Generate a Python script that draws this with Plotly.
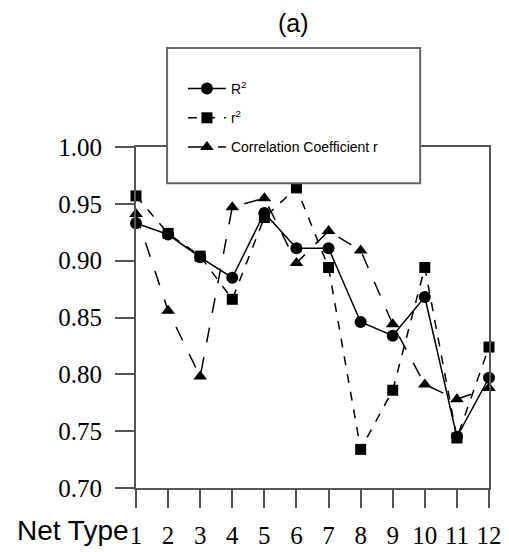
import plotly.graph_objects as go

net_type = [1, 2, 3, 4, 5, 6, 7, 8, 9, 10, 11, 12]
tick_labels = ["1", "2", "3", "4", "5", "6", "7", "8", "9", "10", "11", "12"]
R2 = [0.933, 0.923, 0.903, 0.885, 0.942, 0.911, 0.911, 0.846, 0.834, 0.868, 0.745, 0.797]
r2 = [0.957, 0.924, 0.904, 0.866, 0.938, 0.964, 0.894, 0.734, 0.786, 0.894, 0.744, 0.824]
corr_r = [0.941, 0.856, 0.798, 0.947, 0.955, 0.898, 0.926, 0.909, 0.844, 0.791, 0.778, 0.788]
y_ticks = [0.70, 0.75, 0.80, 0.85, 0.90, 0.95, 1.00]

fig = go.Figure()
fig.add_trace(go.Scatter(x=net_type, y=R2, mode="lines+markers", name="R<sup>2</sup>",
                         legendgroup="a",
                         line=dict(color="black", width=1.5),
                         marker=dict(symbol="circle", size=12, color="black"), cliponaxis=False))
fig.add_trace(go.Scatter(x=net_type, y=r2, mode="lines+markers", name="r<sup>2</sup>",
                         legendgroup="b",
                         line=dict(color="black", width=1.5, dash="dash"),
                         marker=dict(symbol="square", size=11, color="black"), cliponaxis=False))
fig.add_trace(go.Scatter(x=net_type, y=corr_r, mode="lines+markers", name="Correlation Coefficient r",
                         legendgroup="c",
                         line=dict(color="black", width=1.5, dash="longdash"),
                         marker=dict(symbol="triangle-up", size=12, color="black"), cliponaxis=False))

fig.update_layout(
    width=501, height=544,
    margin=dict(l=128, r=20, t=139, b=64, autoexpand=False),
    plot_bgcolor="white", paper_bgcolor="white",
    showlegend=True,
    legend=dict(x=0.133, y=1.217, xanchor="left", yanchor="top",
                bgcolor="rgba(0,0,0,0)", borderwidth=0, tracegroupgap=8,
                font=dict(family="Liberation Sans", size=14, color="black"),
                itemwidth=38),
    shapes=[dict(type="rect", xref="paper", yref="paper", x0=0.088, x1=0.805, y0=0.894, y1=1.290,
                 fillcolor="white", line=dict(color="#666", width=2), layer="above")],
    annotations=[
        dict(text="(a)", x=0.445, y=1.365, xref="paper", yref="paper", yanchor="middle",
             showarrow=False, font=dict(family="Liberation Sans", size=25, color="black")),
        dict(text="Net Type", x=-0.014, y=-0.126, xref="paper", yref="paper", xanchor="right",
             yanchor="middle", showarrow=False,
             font=dict(family="Liberation Sans", size=28, color="black")),
    ],
)
fig.update_xaxes(range=[1, 12], tickvals=net_type, ticktext=tick_labels, automargin=False,
                 showgrid=False, zeroline=False, showline=True, linecolor="#555", linewidth=2,
                 mirror=True, ticks="outside", ticklen=18, tickcolor="#555", tickwidth=2,
                 ticklabelstandoff=6,
                 tickfont=dict(family="Liberation Serif", size=25, color="black"))
fig.update_yaxes(range=[0.70, 1.00], tickvals=y_ticks, tickformat=".2f", automargin=False,
                 showgrid=False, zeroline=False, showline=True, linecolor="#555", linewidth=2,
                 mirror=True, ticks="outside", ticklen=19, tickcolor="#555", tickwidth=2,
                 ticklabelstandoff=8,
                 tickfont=dict(family="Liberation Serif", size=25, color="black"))

fig.write_html("out.html")
